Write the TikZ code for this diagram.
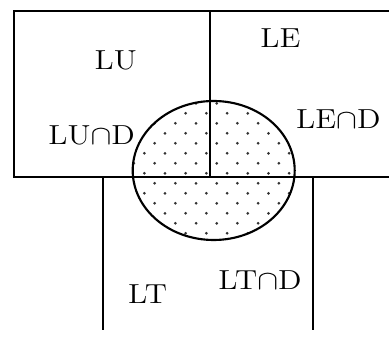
\documentclass[tikz,border=0pt]{standalone}
\usepackage{graphicx}
\newcommand{\stx}[1]{\scalebox{1.14}[1]{#1}}
\begin{document}
\begin{tikzpicture}[x=0.4pt,y=-0.4pt,line width=0.85pt,
  lbl/.style={anchor=base,inner sep=0pt,font=\fontsize{11}{13}\selectfont},
  dotc/.style={fill=black!80}]
\useasboundingbox (0,0) rectangle (389,340);
% dotted fill of the ellipse
\begin{scope}
  \clip (213.7,170.5) ellipse [x radius=81, y radius=69.5];
  \foreach \k in {0,...,15}{
    \foreach \m in {-5,...,6}{
      \pgfmathsetmacro\xx{185.7+20.7*\m-10.35*mod(\k,2)}
      \pgfmathsetmacro\yy{93.3+10*\k}
      \fill[dotc] (\xx,\yy) circle [radius=1.5];
    }
  }
\end{scope}
\draw (213.7,170.5) ellipse [x radius=81, y radius=69.5];
% top boxes
\draw (389,11) -- (14,11) -- (14,176.7) -- (389,176.7);
\draw (210.3,11) -- (210.3,176.7);
% lower box
\draw (102.7,330) -- (102.7,176.7) -- (312.7,176.7) -- (312.7,330);
% labels
\node[lbl] (lu) at (115.8,70) {\stx{LU}};
\node[lbl] (le) at (280.5,47.3) {\stx{LE}};
\node[lbl] (lud) at (91.7,145) {\stx{LU$\cap$D}};
\node[lbl] (led) at (338.3,128.3) {\stx{LE$\cap$D}};
\node[lbl] (lt) at (147.5,303.3) {\stx{LT}};
\node[lbl] (ltd) at (260,290) {\stx{LT$\cap$D}};
\end{tikzpicture}
\end{document}
